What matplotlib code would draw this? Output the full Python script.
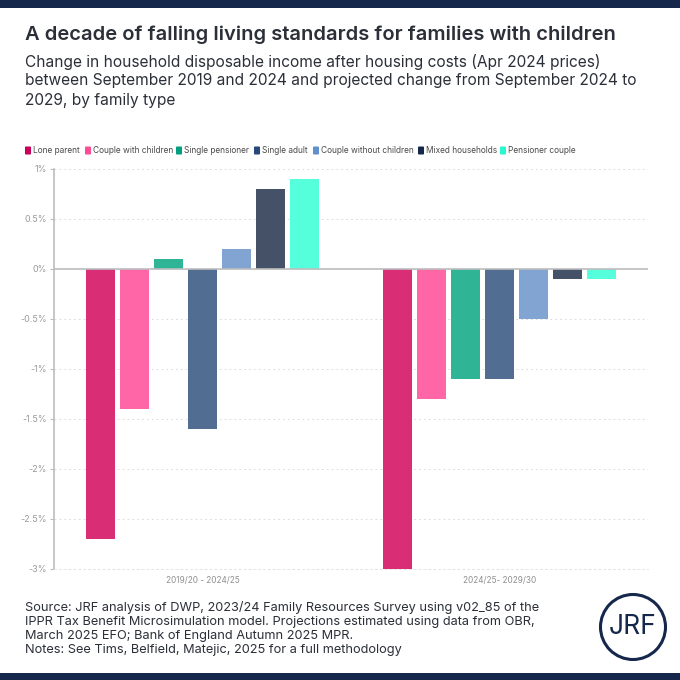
import numpy as np
import matplotlib.pyplot as plt
from matplotlib.patches import Circle, FancyBboxPatch, Rectangle

plt.rcParams["font.family"] = ["Inter", "DejaVu Sans"]

periods = ["2019/20 - 2024/25", "2024/25- 2029/30"]
family_types = ["Lone parent", "Couple with children", "Single pensioner", "Single adult",
                "Couple without children", "Mixed households", "Pensioner couple"]
change_2019 = [-2.7, -1.4, 0.1, -1.6, 0.2, 0.8, 0.9]
change_2024 = [-3.0, -1.3, -1.1, -1.1, -0.5, -0.1, -0.1]
bar_colors = ["#d92d75", "#ff66a8", "#2fb596", "#526d92", "#81a4d3", "#445166", "#55ffdc"]
legend_colors = ["#c8005a", "#ff4d94", "#00a07e", "#27487a", "#6190cc", "#15284b", "#2af7cf"]
y_ticks = [1, 0.5, 0, -0.5, -1, -1.5, -2, -2.5, -3]
y_labels = ["1%", "0.5%", "0%", "-0.5%", "-1%", "-1.5%", "-2%", "-2.5%", "-3%"]

NAVY = "#15284b"
TEXT = "#2b2f38"
W = H = 680


def fx(px):
    return px / W


def fy(py):
    return 1 - py / H


fig = plt.figure(figsize=(6.8, 6.8), dpi=100, facecolor="white")

# dark bands top and bottom
fig.add_artist(Rectangle((0, fy(8)), 1, 8 / H, transform=fig.transFigure, color=NAVY, lw=0))
fig.add_artist(Rectangle((0, 0), 1, 7 / H, transform=fig.transFigure, color=NAVY, lw=0))

fig.text(fx(25), fy(35), "A decade of falling living standards for families with children",
         fontsize=14.5, fontweight="semibold", color=TEXT, va="center")
sub = ["Change in household disposable income after housing costs (Apr 2024 prices)",
       "between September 2019 and 2024 and projected change from September 2024 to",
       "2029, by family type"]
for line, py in zip(sub, [62, 81, 100]):
    fig.text(fx(25), fy(py), line, fontsize=11.15, color=TEXT, va="center")

ax = fig.add_axes([fx(54), fy(569), (648 - 54) / W, 400 / H])
ax.set_xlim(-0.5, 1.5)
ax.set_ylim(-3, 1)

x = np.arange(len(periods))
pitch = 0.1145
for i, name in enumerate(family_types):
    offset = (i - 3) * pitch
    ax.bar(x + offset, [change_2019[i], change_2024[i]], width=0.1,
           color=bar_colors[i], zorder=3, linewidth=0)

ax.axhline(0, color="#bdbdbd", lw=1.2, zorder=4)
ax.set_yticks(y_ticks)
ax.set_yticklabels(y_labels, fontsize=6.5, color="#9a9a9a")
ax.set_xticks(x)
ax.set_xticklabels(periods, fontsize=5.9, color="#8f8f8f")
ax.tick_params(axis="y", length=3, width=0.8, color="#bdbdbd", pad=2)
ax.tick_params(axis="x", length=0, pad=5)
ax.grid(axis="y", color="#dedede", linestyle=(0, (2, 3)), linewidth=0.7, zorder=0)
for side in ["top", "right"]:
    ax.spines[side].set_visible(False)
ax.spines["left"].set_color("#bdbdbd")
ax.spines["left"].set_linewidth(1.2)
ax.spines["bottom"].set_color("#e4e4e4")
ax.spines["bottom"].set_linestyle((0, (2, 3)))
ax.spines["bottom"].set_linewidth(0.7)

# legend laid out by hand to keep the swatch spacing
legend_px = [25, 85, 176, 254, 313, 418, 500]
for name, color, px in zip(family_types, legend_colors, legend_px):
    fig.add_artist(FancyBboxPatch((fx(px + 1), fy(153.5)), 4 / W, 6 / H,
                                  boxstyle="round,pad=0.0015", transform=fig.transFigure,
                                  facecolor=color, edgecolor="none"))
    fig.text(fx(px + 8), fy(150.5), name, fontsize=6.0, color="#4a4a4a", va="center")

notes = ["Source: JRF analysis of DWP, 2023/24 Family Resources Survey using v02_85 of the",
         "IPPR Tax Benefit Microsimulation model. Projections estimated using data from OBR,",
         "March 2025 EFO; Bank of England Autumn 2025 MPR.",
         "Notes: See Tims, Belfield, Matejic, 2025 for a full methodology"]
for line, py in zip(notes, [608, 622, 636, 650]):
    fig.text(fx(25), fy(py), line, fontsize=9.2, color=TEXT, va="center")

# JRF roundel
fig.add_artist(Circle((fx(633), fy(627)), 32.5 / W, transform=fig.transFigure,
                      fill=False, edgecolor=NAVY, lw=2.2))
fig.text(fx(633), fy(627), "JRF", fontsize=19, color=NAVY, ha="center", va="center")

fig.savefig("out.png", dpi=100)
